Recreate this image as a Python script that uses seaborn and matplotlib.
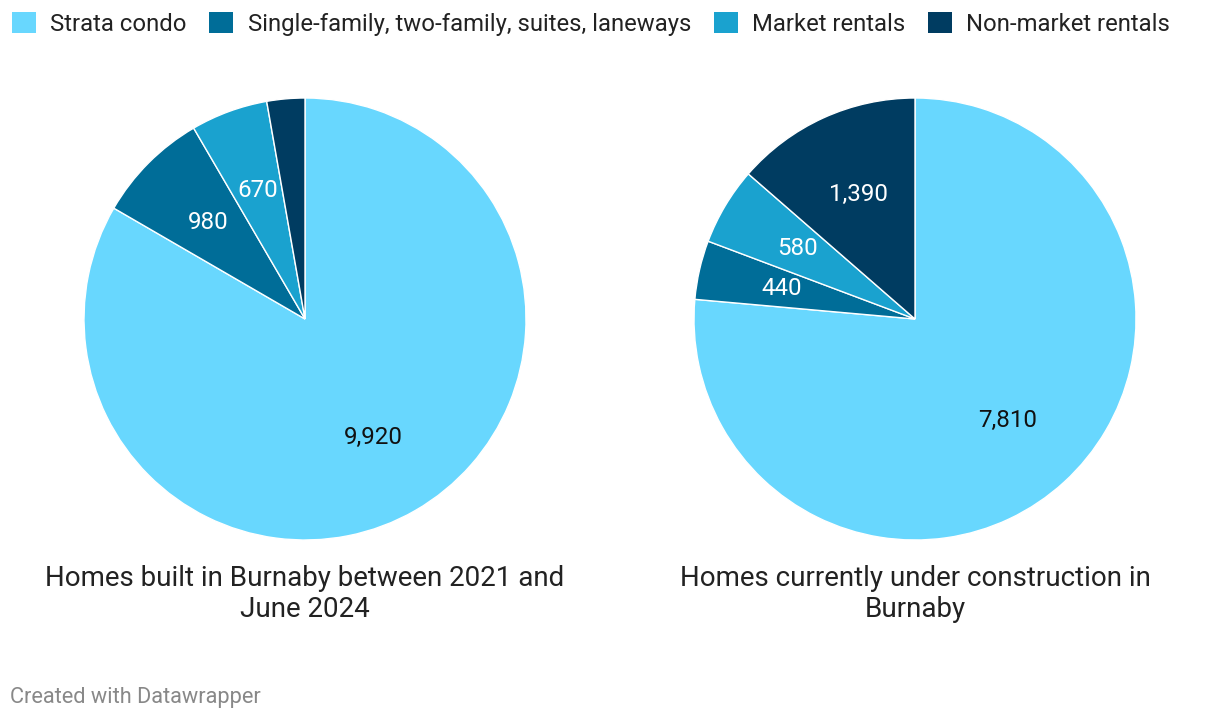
import matplotlib
matplotlib.use('Agg')
import matplotlib.pyplot as plt
import matplotlib.patches as mpatches
import seaborn as sns

# data
categories = ['Strata condo', 'Single-family, two-family, suites, laneways',
              'Market rentals', 'Non-market rentals']
built_values = [9920, 980, 670, 330]
construction_values = [7810, 440, 580, 1390]
pie_titles = ['Homes built in Burnaby between 2021 and\nJune 2024',
              'Homes currently under construction in\nBurnaby']
colors = ['#68d7fe', '#006d98', '#1aa2cf', '#003c61']
label_colors = ['#111111', 'white', 'white', 'white']

sns.set_theme(style='white')
plt.rcParams['font.family'] = ['Roboto', 'DejaVu Sans']

W, H = 1220, 720
fig = plt.figure(figsize=(W / 100, H / 100), dpi=100)

R = 221
centers = [(305, 319), (915, 319)]


def make_autopct(values, min_share=0.04):
    total = sum(values)

    def fmt(pct):
        v = pct * total / 100.0
        if pct / 100.0 < min_share:
            return ''
        return f'{int(round(v)):,}'
    return fmt


for (cx, cy), vals, title in zip(centers, [built_values, construction_values], pie_titles):
    ax = fig.add_axes([(cx - R) / W, (H - cy - R) / H, 2 * R / W, 2 * R / H])
    wedges, texts, autotexts = ax.pie(
        vals, colors=colors, startangle=90, counterclock=False, radius=1,
        autopct=make_autopct(vals), pctdistance=0.62,
        wedgeprops=dict(edgecolor='white', linewidth=1),
    )
    for t, c in zip(autotexts, label_colors):
        t.set_color(c)
        t.set_fontsize(17.4)
    ax.set_xlim(-1, 1)
    ax.set_ylim(-1, 1)
    ax.set_aspect('equal')
    ax.axis('off')
    fig.text(cx / W, (H - 565) / H, title, ha='center', va='top',
             fontsize=20, color='#222222', linespacing=1.2)

handles = [mpatches.Patch(facecolor=c, edgecolor='none', label=l)
           for c, l in zip(colors, categories)]
fig.legend(handles=handles, loc='upper left', bbox_to_anchor=(0.0, 1.0),
           ncol=4, frameon=False, fontsize=17.2, handlelength=1.0,
           handleheight=1.0, handletextpad=0.6, columnspacing=0.95,
           borderaxespad=0.3, borderpad=0.2, labelcolor='#222222')

fig.text(10 / W, (H - 698) / H, 'Created with Datawrapper', ha='left',
         va='center', fontsize=15.7, color='#888888')

fig.savefig('out.png', dpi=100, facecolor='white')
